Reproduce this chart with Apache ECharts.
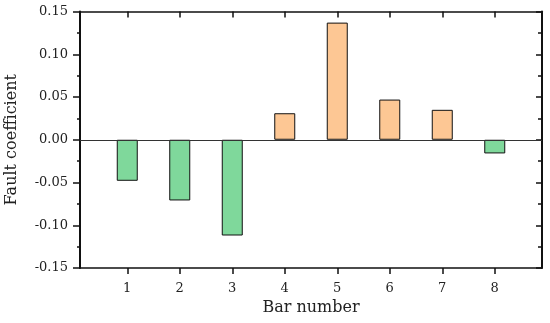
<!DOCTYPE html>
<html>
<head>
<meta charset="utf-8">
<script src="https://cdn.jsdelivr.net/npm/echarts@6/dist/echarts.min.js"></script>
<style>
html,body{margin:0;padding:0;background:#fff;}
#chart{width:550px;height:323px;}
</style>
</head>
<body>
<div id="chart"></div>
<script>
var barNumbers = [1, 2, 3, 4, 5, 6, 7, 8];
var faultCoefficients = [-0.048, -0.071, -0.112, 0.031, 0.137, 0.047, 0.035, -0.016];
var yTicks = [-0.15, -0.10, -0.05, 0.00, 0.05, 0.10, 0.15];
var xLabel = 'Bar number';
var yLabel = 'Fault coefficient';

var FONT = 'DejaVu Serif';
var GREEN = '#7fd89b';
var ORANGE = '#fdc794';

var chart = echarts.init(document.getElementById('chart'));
var seriesData = barNumbers.map(function (b, i) { return [b, faultCoefficients[i]]; });

var commonX = {
  type: 'value', min: 0.1, max: 8.9,
  splitLine: { show: false },
  axisLine: { show: true, onZero: false, lineStyle: { color: '#111', width: 1.5 } }
};
var commonY = {
  type: 'value', min: yTicks[0], max: yTicks[yTicks.length - 1], interval: 0.05,
  splitLine: { show: false },
  axisLine: { show: true, onZero: false, lineStyle: { color: '#111', width: 2 } }
};

chart.setOption({
  animation: false,
  grid: { left: 80, right: 8, top: 11.5, bottom: 55, containLabel: false, outerBoundsMode: 'none' },
  xAxis: [
    Object.assign({}, commonX, {
      position: 'bottom',
      name: xLabel, nameLocation: 'middle', nameGap: 26,
      nameTextStyle: { fontFamily: FONT, fontSize: 16, color: '#222' },
      axisTick: { show: true, inside: false, length: 6, customValues: barNumbers, lineStyle: { color: '#111', width: 1.5 } },
      axisLabel: { show: true, margin: 14, customValues: barNumbers, fontFamily: FONT, fontSize: 13, color: '#222' }
    }),
    Object.assign({}, commonX, {
      position: 'top',
      axisTick: { show: true, inside: true, length: 6, customValues: barNumbers, lineStyle: { color: '#111', width: 1.5 } },
      axisLabel: { show: false }
    })
  ],
  yAxis: [
    Object.assign({}, commonY, {
      position: 'left',
      name: yLabel, nameLocation: 'middle', nameGap: 60,
      nameTextStyle: { fontFamily: FONT, fontSize: 16, color: '#222' },
      axisTick: { show: true, inside: false, length: 7, lineStyle: { color: '#111', width: 1.5 } },
      minorTick: { show: true, splitNumber: 2, length: 3, lineStyle: { color: '#111', width: 1.5 } },
      axisLabel: { show: true, margin: 12, fontFamily: FONT, fontSize: 13, color: '#222',
        formatter: function (v) { return v.toFixed(2); } }
    }),
    Object.assign({}, commonY, {
      position: 'right',
      axisTick: { show: true, inside: true, length: 6, lineStyle: { color: '#111', width: 1.5 } },
      minorTick: { show: true, splitNumber: 2, length: 4, lineStyle: { color: '#111', width: 1.5 } },
      axisLabel: { show: false }
    })
  ],
  series: [{
    type: 'bar',
    xAxisIndex: 0, yAxisIndex: 0,
    barWidth: 21,
    data: seriesData,
    itemStyle: {
      color: function (p) { return p.value[1] < 0 ? GREEN : ORANGE; },
      borderColor: '#111', borderWidth: 1
    },
    markLine: {
      silent: true, symbol: 'none',
      label: { show: false },
      lineStyle: { color: '#333', width: 1, type: 'solid' },
      data: [{ yAxis: 0 }]
    }
  }]
});
</script>
</body>
</html>
